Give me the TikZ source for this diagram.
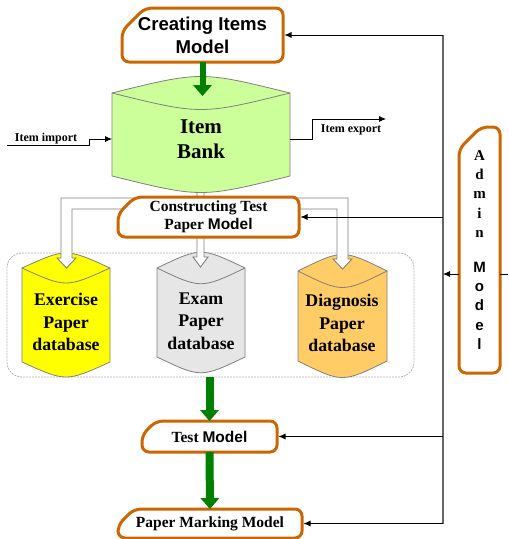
\documentclass[tikz,border=0pt]{standalone}
\usepackage{fontspec}
\setmainfont{Liberation Serif}
\newfontfamily\ar{Liberation Sans}
\usetikzlibrary{arrows.meta}
\definecolor{boxor}{HTML}{CC6600}
\definecolor{bankgreen}{HTML}{CCFF99}
\definecolor{exyellow}{HTML}{FFFF00}
\definecolor{examgray}{HTML}{E6E6E6}
\definecolor{diagorange}{HTML}{FFCC66}
\definecolor{garrow}{HTML}{008000}
\newcommand\chambox[7]{%
  \node[plain, minimum width=#3, minimum height=#4] (#1) at #2 {};
  \draw[boxline] ([yshift=-#5]#1.north west) -- ([xshift=#5]#1.north west) -- (#1.north east) -- (#1.south east) -- (#1.south west) -- cycle;
  \node[align=center, plain, font={#7}] (#1-t) at (#1.center) {#6};
}
\newcommand\dbshape[6]{%
  \filldraw[dbline, fill=#6] (#1,#3) .. controls ({(#1+#2)/2},{#3-2*#5}) .. (#2,#3) -- (#2,#4) .. controls ({(#1+#2)/2},{#4+2*#5}) .. (#1,#4) -- cycle;
  \draw[dbline] (#1,#3) .. controls ({(#1+#2)/2},{#3+2*#5}) .. (#2,#3);
}
\begin{document}
\begin{tikzpicture}[x=1pt,y=-1pt,
  plain/.style={inner sep=0pt, outer sep=0pt},
  boxline/.style={draw=boxor, line width=3pt, fill=white, rounded corners=7pt, line join=round},
  tl/.style={draw=black, line width=0.8pt},
  arr/.style={tl, -{Latex[length=7pt,width=6pt]}, shorten >=1.5pt},
  vln/.style={draw=gray!80!black, line width=1.6pt},
  garr/.style={draw=garrow, line width=8pt, -{Triangle[length=11pt,width=19pt,line width=0pt]}},
  dbline/.style={draw=gray, line width=0.8pt},
  hollow/.style={draw=gray, line width=0.9pt, fill=white, line join=miter},
  contstyle/.style={draw=gray!60, dash pattern=on 2pt off 1pt, rounded corners=15pt, line width=0.8pt},
  dbtext/.style={align=center, plain, font={\bfseries\fontsize{17.8}{22.5}\selectfont}},
  small/.style={plain, font={\bfseries\fontsize{12}{14}\selectfont}},
]
\useasboundingbox (0,0) rectangle (509,539);

% container
\node[contstyle, minimum width=407, minimum height=124, plain] (cont) at (210.5,315) {};

% databases
\dbshape{22}{110}{268}{362}{10}{exyellow}
\node[dbtext] (ex) at (66,322) {Exercise\\Paper\\database};
\dbshape{157}{245}{268}{357}{10.5}{examgray}
\node[dbtext] (exam) at (201,321) {Exam\\Paper\\database};
\dbshape{298}{387}{271}{361}{11}{diagorange}
\node[dbtext] (diag) at (342,323) {Diagnosis\\Paper\\database};

% hollow distribution arrows
\filldraw[hollow] (197,184) -- (197,198) -- (61,198) -- (61,258) -- (57,258) -- (66.5,268) -- (76,258) -- (72,258) -- (72,209) -- (197,209) -- (197,257) -- (193,257) -- (200.5,267) -- (208,257) -- (204,257) -- (204,209) -- (337,209) -- (337,259) -- (333,259) -- (342.5,269) -- (352,259) -- (348,259) -- (348,198) -- (204,198) -- (204,184);

% item bank
\dbshape{112}{290}{93}{176}{11}{bankgreen}
\node[align=center, plain, font={\bfseries\fontsize{21}{25}\selectfont}] (bank) at (201,139) {Item\\Bank};

% boxes
\chambox{create}{(202.5,35)}{161}{54}{23pt}{Creating Items\\Model}{\ar\bfseries\fontsize{18.6}{23}\selectfont}
\chambox{constr}{(208.5,217)}{181}{40}{17pt}{Constructing Test\\Paper {\ar Model}}{\bfseries\fontsize{15.5}{18}\selectfont}
\chambox{test}{(209.5,436.5)}{135}{31}{14pt}{Test {\ar Model}}{\bfseries\fontsize{15.5}{18}\selectfont}
\chambox{mark}{(210,523.5)}{184}{29}{16pt}{Paper Marking Model}{\bfseries\fontsize{15.5}{18}\selectfont}
\chambox{admin}{(479.5,250)}{41}{246}{22pt}{A\\d\\m\\i\\n\\[15pt]{\ar M}\\{\ar o}\\{\ar d}\\{\ar e}\\{\ar l}}{\bfseries\fontsize{15}{19.4}\selectfont}

% green flow arrows
\coordinate (banktop) at (202.5,96);
\draw[garr, line width=6pt] (create.south) -- (banktop);
\draw[garr] (cont.south -| test.north) -- (test.north);
\draw[garr] (test.south) -- (mark.north);

% admin links
\coordinate (admx) at (443,0);
\draw[vln] (create.east -| admx) -- (mark.east -| admx);
\draw[arr] (create.east -| admx) -- (create.east);
\draw[arr] (constr.east -| admx) -- (constr.east);
\draw[arr] (test.east -| admx) -- (test.east);
\draw[arr] (mark.east -| admx) -- (mark.east);
\coordinate (adminout) at ([yshift=-24pt]admin.west);
\draw[arr, shorten >=0pt] (adminout) -- (adminout -| admx);
\coordinate (adminright) at ([yshift=-24pt]admin.east);
\coordinate (rightend) at (508,274);
\draw[tl] (adminright) -- (rightend);

% import / export
\node[small] (imptext) at (46,139) {Item import};
\node[small] (exptext) at (351,130) {Item export};
\coordinate (impstart) at (7,145);
\coordinate (impin) at (112,139);
\draw[arr, shorten >=0pt] (impstart) -- (89,145) -- (89,139) -- (impin);
\coordinate (expout) at (290,139);
\coordinate (expend) at (386,119);
\draw[arr, shorten >=0pt] (expout) -- (312,139) -- (312,119) -- (expend);
\end{tikzpicture}
\end{document}
